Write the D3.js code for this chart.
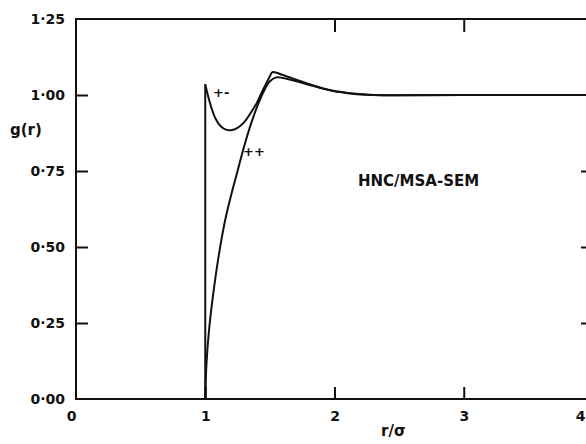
<!DOCTYPE html>
<html>
<head>
<meta charset="utf-8">
<script src="https://cdn.jsdelivr.net/npm/d3@7"></script>
<style>
  body { margin: 0; background: #fff; }
  svg text { font-family: "DejaVu Sans", sans-serif; font-weight: bold; fill: #111; }
</style>
</head>
<body>
<svg id="chart" width="586" height="444"></svg>
<script>
// tick values and labels
var xTicks = [0, 1, 2, 3, 4];
var yTicks = [0, 0.25, 0.5, 0.75, 1.0, 1.25];
var yTickLabels = ["0·00", "0·25", "0·50", "0·75", "1·00", "1·25"];

// curve "+-" (starts with a jump at r = 1)
var rPM = [1.0, 1.02, 1.05, 1.08, 1.12, 1.16, 1.2, 1.25, 1.3, 1.35, 1.4, 1.45, 1.5, 1.52, 1.6, 1.7, 1.8, 1.9, 2.0, 2.1, 2.2, 2.3, 2.5, 3.0, 4.0];
var gPM = [1.035, 1.0, 0.955, 0.922, 0.897, 0.886, 0.884, 0.892, 0.91, 0.94, 0.975, 1.02, 1.062, 1.075, 1.066, 1.051, 1.036, 1.023, 1.013, 1.007, 1.003, 1.0, 0.999, 1.0, 1.0];

// curve "++"
var rPP = [1.0, 1.01, 1.03, 1.06, 1.1, 1.15, 1.2, 1.25, 1.3, 1.35, 1.4, 1.45, 1.5, 1.55, 1.6, 1.7, 1.8, 1.9, 2.0, 2.1, 2.2, 2.3, 2.5, 3.0, 4.0];
var gPP = [0.0, 0.12, 0.23, 0.34, 0.46, 0.58, 0.67, 0.75, 0.83, 0.9, 0.96, 1.01, 1.045, 1.058, 1.056, 1.046, 1.034, 1.022, 1.012, 1.006, 1.002, 1.0, 0.999, 1.0, 1.0];

var svg = d3.select("#chart");
var x = d3.scaleLinear().domain([0, 4]).range([76, 593]);
var y = d3.scaleLinear().domain([0, 1.25]).range([399, 19]);

// frame
svg.append("path")
    .attr("d", "M" + x(4) + "," + y(1.25) + "H" + x(0) + "V" + y(0) + "H" + x(4) + "V" + y(1.25))
    .attr("fill", "none")
    .attr("stroke", "#111")
    .attr("stroke-width", 2);

// bottom axis, ticks inward
var gx = svg.append("g")
    .attr("transform", "translate(0," + y(0) + ")")
    .call(d3.axisBottom(x).tickValues(xTicks).tickSize(-12).tickPadding(12).tickFormat(d3.format("d")));
gx.selectAll(".tick line").filter(function (d) { return d === 0; }).remove();
// top axis ticks
var gxt = svg.append("g")
    .attr("transform", "translate(0," + y(1.25) + ")")
    .call(d3.axisTop(x).tickValues([2, 3]).tickSize(-13).tickFormat(""));
// left axis
var gy = svg.append("g")
    .attr("transform", "translate(" + x(0) + ",0)")
    .call(d3.axisLeft(y).tickValues(yTicks).tickSize(-12).tickPadding(11)
        .tickFormat(function (d, i) { return yTickLabels[i]; }));
gy.selectAll(".tick line").filter(function (d) { return d === 0 || d === 1.25; }).remove();
// right axis ticks
var gyr = svg.append("g")
    .attr("transform", "translate(" + x(4) + ",0)")
    .call(d3.axisRight(y).tickValues([0.25, 0.5, 0.75]).tickSize(-12).tickFormat(""));

[gx, gxt, gy, gyr].forEach(function (g) {
    g.select(".domain").remove();
    g.selectAll(".tick line").attr("stroke", "#111").attr("stroke-width", 2);
    g.selectAll("text").attr("font-size", 14).attr("font-family", "DejaVu Sans, sans-serif")
        .attr("font-weight", "bold").attr("fill", "#111");
});
gx.selectAll(".tick").filter(function (d) { return d === 0; }).select("text").attr("dx", -5);
// keep the last label inside the window
gx.selectAll(".tick").filter(function (d) { return d === 4; }).select("text")
    .attr("text-anchor", "end").attr("dx", 585 - x(4));

var line = d3.line()
    .x(function (d) { return x(d[0]); })
    .y(function (d) { return y(d[1]); })
    .curve(d3.curveCatmullRom.alpha(0.5));

// vertical jump at contact
svg.append("line")
    .attr("x1", x(1)).attr("x2", x(1))
    .attr("y1", y(0)).attr("y2", y(gPM[0]))
    .attr("stroke", "#111").attr("stroke-width", 2);

svg.append("path")
    .datum(rPM.map(function (r, i) { return [r, gPM[i]]; }))
    .attr("d", line)
    .attr("fill", "none").attr("stroke", "#111").attr("stroke-width", 2);

svg.append("path")
    .datum(rPP.map(function (r, i) { return [r, gPP[i]]; }))
    .attr("d", line)
    .attr("fill", "none").attr("stroke", "#111").attr("stroke-width", 2);

// labels
svg.append("text").attr("x", 213).attr("y", 97).attr("font-size", 13).text("+-");
svg.append("text").attr("x", 243).attr("y", 156).attr("font-size", 13).text("++");
svg.append("text").attr("x", 358).attr("y", 186).attr("font-size", 15).text("HNC/MSA-SEM");
svg.append("text").attr("x", 10).attr("y", 135).attr("font-size", 15).text("g(r)");
svg.append("text").attr("x", 381).attr("y", 436).attr("font-size", 15).text("r/σ");
</script>
</body>
</html>
